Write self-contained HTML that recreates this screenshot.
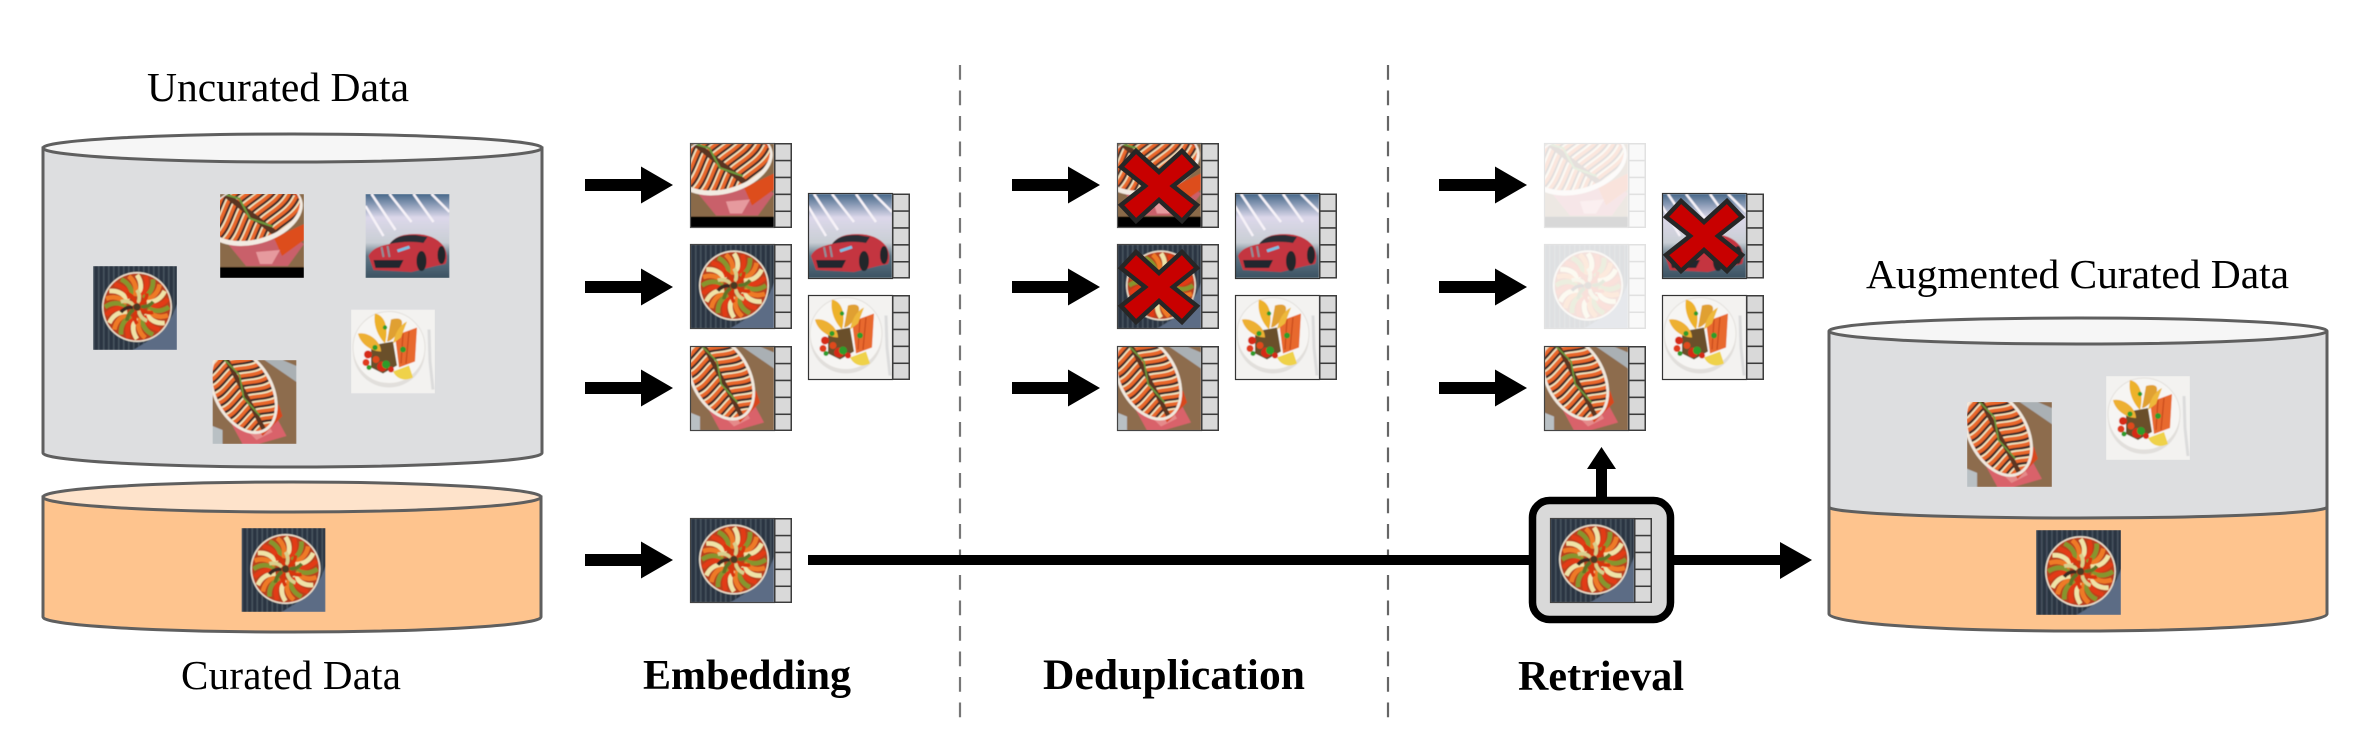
<!DOCTYPE html>
<html><head><meta charset="utf-8"><style>html,body{margin:0;padding:0;background:#fff}svg{display:block}text{font-family:"Liberation Serif",serif;fill:#000}</style></head><body>
<svg xmlns="http://www.w3.org/2000/svg" width="2376" height="732" viewBox="0 0 2376 732">
<defs>
<filter id="b" x="-5%" y="-5%" width="110%" height="110%"><feGaussianBlur stdDeviation="0.6"/></filter>
<clipPath id="c84"><rect width="84" height="84"/></clipPath>
<clipPath id="ovalC"><ellipse cx="31" cy="31" rx="43" ry="27" transform="rotate(62 31 31)"/></clipPath>
<clipPath id="ovalA"><ellipse cx="34" cy="18" rx="47" ry="27" transform="rotate(-16 34 18)"/></clipPath>
<pattern id="den" width="5" height="84" patternUnits="userSpaceOnUse"><rect width="5" height="84" fill="#2a3442"/><rect width="1.5" height="84" fill="#46535f"/></pattern>
<linearGradient id="sky" x1="0" y1="0" x2="0" y2="1"><stop offset="0" stop-color="#46688a"/><stop offset=".28" stop-color="#dcd8ea"/><stop offset=".58" stop-color="#c9ced4"/><stop offset=".74" stop-color="#5e7686"/><stop offset="1" stop-color="#3c5262"/></linearGradient>

<!-- one band of the layered vegetable rows -->
<g id="ch" fill="none">
<path d="M0 0C2 -10 10 -20 6 -32M0 0C2 10 10 20 6 32" stroke="#e8672a" stroke-width="3.4"/>
<path d="M3.2 0C5.200 -10 13.200 -20 9.200 -32M3.200 0C5.200 10 13.200 20 9.200 32" stroke="#2f2a2a" stroke-width="2"/>
<path d="M5.600 0C7.600 -10 15.600 -20 11.600 -32M5.600 0C7.600 10 15.600 20 11.600 32" stroke="#efe6c2" stroke-width="2.200"/>
</g>
<g id="rows">
<use href="#ch" x="-56"/><use href="#ch" x="-48"/><use href="#ch" x="-40"/><use href="#ch" x="-32"/><use href="#ch" x="-24"/><use href="#ch" x="-16"/><use href="#ch" x="-8"/><use href="#ch" x="0"/><use href="#ch" x="8"/><use href="#ch" x="16"/><use href="#ch" x="24"/><use href="#ch" x="32"/><use href="#ch" x="40"/>
<path d="M-50 0H48" stroke="#5a3520" stroke-width="4.500"/>
<path d="M-40 3L-16 -4L6 3L30 -3" stroke="#6b9a3c" stroke-width="1.600" fill="none"/>
</g>

<path id="sl" d="M0 -32Q7 -22 1 -11" fill="none" stroke-width="4.600"/>
<path id="si" d="M0 -17Q4 -11 1 -4" fill="none" stroke-width="3.600"/>

<symbol id="dishR" viewBox="0 0 84 84"><g clip-path="url(#c84)" filter="url(#b)">
<rect width="84" height="84" fill="url(#den)"/>
<path d="M84 38C78 60 58 74 40 84H84Z" fill="#5b6c85"/>
<circle cx="44" cy="41" r="35" fill="#ece2d0"/><circle cx="44" cy="41" r="33.500" fill="#b8401a"/>
<g transform="translate(44 41)">
<use href="#sl" stroke="#efe3a8" transform="rotate(0)"/><use href="#sl" stroke="#e23a12" transform="rotate(15)"/><use href="#sl" stroke="#86952e" transform="rotate(30)"/><use href="#sl" stroke="#ee7a28" transform="rotate(45)"/>
<use href="#sl" stroke="#efe3a8" transform="rotate(60)"/><use href="#sl" stroke="#e23a12" transform="rotate(75)"/><use href="#sl" stroke="#86952e" transform="rotate(90)"/><use href="#sl" stroke="#ee7a28" transform="rotate(105)"/>
<use href="#sl" stroke="#efe3a8" transform="rotate(120)"/><use href="#sl" stroke="#e23a12" transform="rotate(135)"/><use href="#sl" stroke="#86952e" transform="rotate(150)"/><use href="#sl" stroke="#ee7a28" transform="rotate(165)"/>
<use href="#sl" stroke="#efe3a8" transform="rotate(180)"/><use href="#sl" stroke="#e23a12" transform="rotate(195)"/><use href="#sl" stroke="#86952e" transform="rotate(210)"/><use href="#sl" stroke="#ee7a28" transform="rotate(225)"/>
<use href="#sl" stroke="#efe3a8" transform="rotate(240)"/><use href="#sl" stroke="#e23a12" transform="rotate(255)"/><use href="#sl" stroke="#86952e" transform="rotate(270)"/><use href="#sl" stroke="#ee7a28" transform="rotate(285)"/>
<use href="#sl" stroke="#efe3a8" transform="rotate(300)"/><use href="#sl" stroke="#e23a12" transform="rotate(315)"/><use href="#sl" stroke="#86952e" transform="rotate(330)"/><use href="#sl" stroke="#ee7a28" transform="rotate(345)"/>
<use href="#si" stroke="#d9cf8c" transform="rotate(0)"/><use href="#si" stroke="#d8340e" transform="rotate(36)"/><use href="#si" stroke="#5f7426" transform="rotate(72)"/><use href="#si" stroke="#d8340e" transform="rotate(108)"/><use href="#si" stroke="#d9cf8c" transform="rotate(144)"/><use href="#si" stroke="#d8340e" transform="rotate(180)"/><use href="#si" stroke="#5f7426" transform="rotate(216)"/><use href="#si" stroke="#3a2a20" transform="rotate(252)"/><use href="#si" stroke="#d9cf8c" transform="rotate(288)"/><use href="#si" stroke="#d8340e" transform="rotate(324)"/>
<circle r="3.500" fill="#4a3a24"/>
</g></g></symbol>

<symbol id="dishC" viewBox="0 0 84 84"><g clip-path="url(#c84)" filter="url(#b)">
<rect width="84" height="84" fill="#8d6c4e"/>
<path d="M52 0L84 22V6L70 0Z" fill="#aab0b4"/>
<path d="M18 62L60 50L74 76L46 84H30Z" fill="#d9626a"/>
<path d="M30 66L52 58L60 72L44 80Z" fill="#e58a8a"/>
<path d="M44 66L66 44L70 56L50 76Z" fill="#d8461e"/>
<path d="M0 66L10 70V84H0Z" fill="#b9c0c4"/>
<ellipse cx="31" cy="31" rx="46" ry="30" transform="rotate(62 31 31)" fill="#f0e8de"/>
<g clip-path="url(#ovalC)"><rect x="-30" y="-30" width="140" height="130" fill="#c9481c"/><g transform="translate(31 31) rotate(62)"><use href="#rows"/></g></g>
</g></symbol>

<symbol id="dishA" viewBox="0 0 84 84"><g clip-path="url(#c84)" filter="url(#b)">
<rect width="84" height="74" fill="#8a6a48"/>
<path d="M8 50L70 40L84 50L68 72H26Z" fill="#c9606a"/>
<path d="M54 44L84 30V46L62 62Z" fill="#dd4d1e"/>
<path d="M36 58L60 56L52 70H40Z" fill="#e69a9e"/>
<ellipse cx="34" cy="20" rx="50" ry="30" transform="rotate(-16 34 20)" fill="#f2ebe2"/>
<g clip-path="url(#ovalA)"><rect x="-30" y="-30" width="140" height="100" fill="#c9481c"/><g transform="translate(28 18) rotate(38) scale(.95 1.3)"><use href="#rows"/></g></g>
<rect y="73" width="84" height="11" fill="#000"/>
</g></symbol>

<symbol id="car" viewBox="0 0 84 84"><g clip-path="url(#c84)" filter="url(#b)">
<rect width="84" height="84" fill="url(#sky)"/>
<g stroke="#f6f2f8" stroke-width="2.500" fill="none"><path d="M6 0L30 36M24 0L46 28M48 0L68 28M66 0L84 18M0 12L18 42"/></g>
<path d="M3 62C6 55 14 52 24 50C30 42 38 40 50 40C62 40 72 44 78 52C82 58 82 66 80 70L70 72L46 78L8 76Z" fill="#c43540"/>
<path d="M24 50C30 42 38 41 50 41L62 43L58 49C46 47 34 48 24 50Z" fill="#2b2f36"/>
<path d="M8 66L38 66L34 74L10 74Z" fill="#24262e"/>
<path d="M16 53L18 63M22 52L24 63" stroke="#8f8f9a" stroke-width="2"/>
<path d="M32 57L44 53" stroke="#7cc0e4" stroke-width="3"/>
<ellipse cx="56" cy="67" rx="5" ry="10" fill="#23262c"/><ellipse cx="76" cy="61" rx="4" ry="9" fill="#23262c"/>
</g></symbol>

<symbol id="plate" viewBox="0 0 84 84"><g clip-path="url(#c84)" filter="url(#b)">
<rect width="84" height="84" fill="#f3f2f0"/>
<circle cx="38" cy="42" r="36" fill="#d6d2ce" opacity=".6"/>
<circle cx="38" cy="38" r="36" fill="#f6f5f3" stroke="#e3e0dc" stroke-width="1"/>
<path d="M44 26L66 18L64 52L48 58Z" fill="#e8692e"/>
<path d="M52 24L50 54M58 22L55 54" stroke="#c94c1e" stroke-width="1.300"/>
<path d="M20 36L42 32L46 56L32 64L20 58Z" fill="#6a4f2c"/>
<path d="M24 4C34 6 38 18 34 34C26 26 22 14 24 4Z" fill="#edb22c"/>
<path d="M40 10C46 8 54 8 50 18C46 26 40 32 36 32Z" fill="#e0a030"/>
<path d="M56 12L50 28L42 34C44 24 48 16 56 12Z" fill="#eeb83a"/>
<path d="M7 24C18 22 30 32 30 42C20 42 9 34 7 24Z" fill="#edb030"/>
<circle cx="17" cy="45" r="4" fill="#d62a18"/><circle cx="31" cy="57" r="5" fill="#d62a18"/><circle cx="15" cy="53" r="3.500" fill="#e03a1c"/><circle cx="40" cy="60" r="3" fill="#d62a18"/><circle cx="25" cy="50" r="3.500" fill="#e0491c"/>
<circle cx="35" cy="55" r="4" fill="#2f9c2a"/><circle cx="24" cy="38" r="2.600" fill="#2f9c2a"/><circle cx="52" cy="40" r="3" fill="#2f9c2a"/><circle cx="18" cy="58" r="2.500" fill="#2f9c2a"/><circle cx="34" cy="18" r="2.200" fill="#2f9c2a"/>
<path d="M42 62L58 56L62 68C54 72 46 70 42 62Z" fill="#efd24a"/>
<path d="M78 20L79 52L82 80" stroke="#dcdcdc" stroke-width="3" fill="none"/>
</g></symbol>

<symbol id="cells" viewBox="0 0 18 85"><g fill="#d9d9d9" stroke="#3c3c3c" stroke-width="1.500"><rect x=".75" y=".75" width="16.500" height="16.900"/><rect x=".75" y="17.600" width="16.500" height="16.900"/><rect x=".75" y="34.500" width="16.500" height="16.900"/><rect x=".75" y="51.400" width="16.500" height="16.900"/><rect x=".75" y="68.300" width="16.500" height="16"/></g></symbol>

<g id="iA"><use href="#dishA" width="84" height="85"/><rect x=".5" y=".5" width="84" height="84" fill="none" stroke="#555" stroke-width="1.200"/><use href="#cells" x="84" width="18" height="85"/></g>
<g id="iR"><use href="#dishR" width="84" height="85"/><rect x=".5" y=".5" width="84" height="84" fill="none" stroke="#444" stroke-width="1.200"/><use href="#cells" x="84" width="18" height="85"/></g>
<g id="iC"><use href="#dishC" width="84" height="85"/><rect x=".5" y=".5" width="84" height="84" fill="none" stroke="#444" stroke-width="1.200"/><use href="#cells" x="84" width="18" height="85"/></g>
<g id="iCar"><use href="#car" width="84" height="86"/><rect x=".5" y=".5" width="84" height="85" fill="none" stroke="#333" stroke-width="1.200"/><use href="#cells" x="84" width="18" height="86"/></g>
<g id="iP"><use href="#plate" width="84" height="85"/><rect x=".5" y=".5" width="84" height="84" fill="none" stroke="#333" stroke-width="1.200"/><use href="#cells" x="84" width="18" height="85"/></g>

<polygon id="ar" points="0,-6 56,-6 56,-18.500 88,0 56,18.500 56,6 0,6" fill="#000"/>
<polygon id="xx" points="-23,-35 0,-14 23,-35 38,-19 14,0 38,19 23,35 0,14 -23,35 -38,19 -14,0 -38,-19" fill="#c80000" stroke="#262626" stroke-width="4.500" stroke-linejoin="miter"/>
</defs>

<rect width="2376" height="732" fill="#fff"/>

<!-- dashed separators -->
<line x1="960" y1="65" x2="960" y2="725" stroke="#777" stroke-width="2.200" stroke-dasharray="14.700 10.800"/>
<line x1="1388" y1="65" x2="1388" y2="725" stroke="#666" stroke-width="2.200" stroke-dasharray="14.700 10.800"/>

<!-- Uncurated cylinder -->
<text x="147" y="101" font-size="41.500" textLength="262">Uncurated Data</text>
<path d="M43 148V453A249.500 14 0 0 0 542 453V148Z" fill="#dddee0" stroke="#5f5f5f" stroke-width="3"/>
<ellipse cx="292.500" cy="148" rx="249.500" ry="14" fill="#f6f6f6" stroke="#5f5f5f" stroke-width="3"/>
<use href="#dishA" x="220" y="194" width="84" height="84"/>
<use href="#car" x="365" y="194" width="85" height="84"/>
<use href="#dishR" x="93" y="266" width="84" height="84"/>
<use href="#plate" x="351" y="309" width="84" height="85"/>
<use href="#dishC" x="212" y="360" width="85" height="84"/>

<!-- Curated cylinder -->
<path d="M43 497V617A249 15 0 0 0 541 617V497Z" fill="#fec48e" stroke="#5f5f5f" stroke-width="3"/>
<ellipse cx="292" cy="497" rx="249" ry="15" fill="#fee3cb" stroke="#5f5f5f" stroke-width="3"/>
<use href="#dishR" x="241" y="528" width="85" height="84"/>
<text x="181" y="689" font-size="41" textLength="220">Curated Data</text>

<!-- arrows -->
<g>
<use href="#ar" x="585" y="185"/><use href="#ar" x="585" y="287"/><use href="#ar" x="585" y="388"/><use href="#ar" x="585" y="560"/>
<use href="#ar" x="1012" y="185"/><use href="#ar" x="1012" y="287"/><use href="#ar" x="1012" y="388"/>
<use href="#ar" x="1439" y="185"/><use href="#ar" x="1439" y="287"/><use href="#ar" x="1439" y="388"/>
</g>

<!-- embedding -->
<use href="#iA" x="690" y="143"/><use href="#iR" x="690" y="244"/><use href="#iC" x="690" y="346"/>
<use href="#iCar" x="808" y="193"/><use href="#iP" x="808" y="295"/>
<use href="#iR" x="690" y="518"/>
<text x="643" y="689" font-size="42" font-weight="bold" textLength="208">Embedding</text>

<!-- dedup -->
<use href="#iA" x="1117" y="143"/><use href="#iR" x="1117" y="244"/><use href="#iC" x="1117" y="346"/>
<use href="#iCar" x="1235" y="193"/><use href="#iP" x="1235" y="295"/>
<use href="#xx" x="1159" y="186"/><use href="#xx" x="1159" y="287"/>
<text x="1043" y="689" font-size="43.500" font-weight="bold" textLength="262">Deduplication</text>

<!-- retrieval -->
<g opacity=".15"><use href="#iA" x="1544" y="143"/><use href="#iR" x="1544" y="244"/></g>
<use href="#iC" x="1544" y="346"/>
<use href="#iCar" x="1662" y="193"/><use href="#iP" x="1662" y="295"/>
<use href="#xx" x="1704" y="236"/>

<!-- long line -->
<rect x="808" y="555" width="725" height="10" fill="#000"/>
<rect x="1670" y="555" width="112" height="10" fill="#000"/>
<polygon points="1780,542 1812,560 1780,579" fill="#000"/>
<rect x="1596" y="468" width="11" height="32" fill="#000"/>
<polygon points="1587,469 1601.500,447 1616,469" fill="#000"/>
<rect x="1532.500" y="500.500" width="138" height="119" rx="17" fill="#d9d9d9" stroke="#000" stroke-width="7.500"/>
<use href="#iR" x="1550" y="518"/>
<text x="1518" y="690" font-size="42" font-weight="bold" textLength="166">Retrieval</text>

<!-- Augmented cylinder -->
<text x="1866" y="288" font-size="41.500" textLength="423">Augmented Curated Data</text>
<path d="M1829 331V507A249 12 0 0 0 2327 507V331Z" fill="#dddee0"/>
<path d="M1829 507V614A249 17 0 0 0 2327 614V507A249 12 0 0 1 1829 507Z" fill="#fec48e"/>
<path d="M1829 331V614A249 17 0 0 0 2327 614V331" fill="none" stroke="#5f5f5f" stroke-width="3"/>
<path d="M1829 507A249 11 0 0 0 2327 507" fill="none" stroke="#5f5f5f" stroke-width="3"/>
<ellipse cx="2078" cy="331" rx="249" ry="13" fill="#f6f6f6" stroke="#5f5f5f" stroke-width="3"/>
<use href="#dishC" x="1967" y="402" width="85" height="85"/>
<use href="#plate" x="2106" y="376" width="84" height="84"/>
<use href="#dishR" x="2036" y="530" width="85" height="85"/>
</svg>
</body></html>
